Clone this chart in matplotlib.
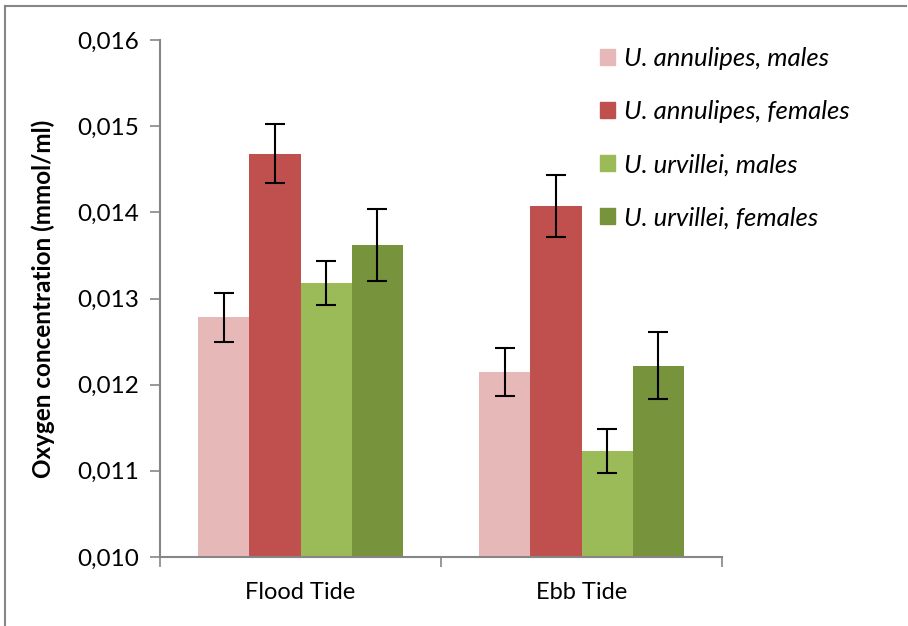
import numpy as np
import matplotlib.pyplot as plt
from matplotlib.lines import Line2D
from matplotlib.ticker import FuncFormatter, FixedLocator

plt.rcParams['font.family'] = ['Lato', 'DejaVu Sans']

tides = ['Flood Tide', 'Ebb Tide']
series = ['U. annulipes, males', 'U. annulipes, females',
          'U. urvillei, males', 'U. urvillei, females']
colors = ['#e6b9b8', '#c0504d', '#9bbb59', '#77933c']

# mean oxygen concentration (mmol/ml) per tide, one list per group
ann_males = [0.01278, 0.01215]
ann_females = [0.01468, 0.01407]
urv_males = [0.01318, 0.01123]
urv_females = [0.01362, 0.01222]
values = [ann_males, ann_females, urv_males, urv_females]

# standard errors
ann_males_err = [0.00028, 0.00028]
ann_females_err = [0.00034, 0.00036]
urv_males_err = [0.00026, 0.00025]
urv_females_err = [0.00042, 0.00039]
errors = [ann_males_err, ann_females_err, urv_males_err, urv_females_err]

fig = plt.figure(figsize=(9.08, 6.26), dpi=100)
ax = fig.add_axes([160 / 908, 1 - 557 / 626, 562 / 908, 517 / 626])

x = np.arange(len(tides))
width = 0.1815
for i, (vals, errs, c, lab) in enumerate(zip(values, errors, colors, series)):
    pos = x + (i - 1.5) * width
    ax.bar(pos, vals, width, color=c, label=lab, zorder=2)
    ax.errorbar(pos, vals, yerr=errs, fmt='none', ecolor='black',
                elinewidth=1.5, capsize=7, capthick=1.5, zorder=3)

ax.set_xlim(-0.5, 1.5)
ax.set_ylim(0.010, 0.016)
ax.set_yticks(np.arange(0.010, 0.0161, 0.001))
ax.yaxis.set_major_formatter(FuncFormatter(lambda v, p: f'{v:.3f}'.replace('.', ',')))
ax.set_xticks(x)
ax.set_xticklabels(tides)
ax.xaxis.set_minor_locator(FixedLocator([-0.5, 0.5, 1.5]))
ax.tick_params(axis='x', which='major', length=0, pad=18, labelsize=17)
ax.tick_params(axis='x', which='minor', length=7, width=1.2, color='#868686')
ax.tick_params(axis='y', length=7, width=1.2, color='#868686', labelsize=17.5, pad=8)

for s in ['top', 'right']:
    ax.spines[s].set_visible(False)
for s in ['left', 'bottom']:
    ax.spines[s].set_color('#868686')
    ax.spines[s].set_linewidth(1.5)

ax.set_ylabel('Oxygen concentration (mmol/ml)', fontsize=17.5, fontweight='bold',
              labelpad=16)

handles = [plt.Rectangle((0, 0), 1, 1, color=c) for c in colors]
leg = fig.legend(handles, series, loc='upper left', bbox_to_anchor=(600 / 908, 1 - 47 / 626),
                 frameon=False, prop={'style': 'italic', 'size': 18.5},
                 handlelength=0.6, handleheight=0.6, handletextpad=0.35,
                 labelspacing=1.17, borderaxespad=0, borderpad=0)

# outer frame (left and top edges)
fig.add_artist(Line2D([5 / 908, 5 / 908], [0, 1 - 6 / 626], transform=fig.transFigure,
                      color='#868686', lw=1.5))
fig.add_artist(Line2D([5 / 908, 906 / 908], [1 - 6 / 626, 1 - 6 / 626],
                      transform=fig.transFigure, color='#868686', lw=1.5))

fig.savefig('out.png', dpi=100)
